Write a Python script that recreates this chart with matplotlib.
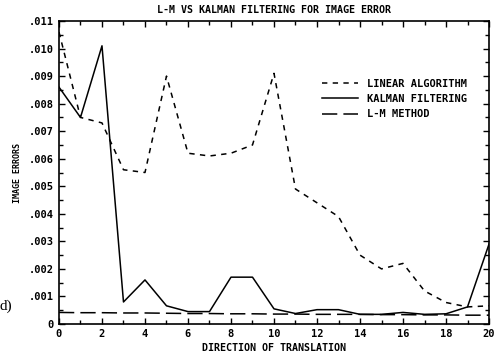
import matplotlib

matplotlib.use("Agg")
import matplotlib.pyplot as plt
from matplotlib.ticker import FixedLocator, MultipleLocator

# values
direction = list(range(21))
linear_alg = [0.0106, 0.0075, 0.0073, 0.0056, 0.0055, 0.0090, 0.0062, 0.0061,
              0.0062, 0.0065, 0.0091, 0.0049, 0.0044, 0.0039, 0.0025, 0.0020,
              0.0022, 0.0012, 0.00078, 0.00062, 0.00066]
kalman = [0.0086, 0.0075, 0.0101, 0.0008, 0.0016, 0.00066, 0.00045, 0.00045,
          0.0017, 0.0017, 0.00055, 0.00038, 0.00052, 0.00052, 0.00035, 0.00035,
          0.00042, 0.00035, 0.00037, 0.00062, 0.0029]
lm_method = [0.00042, 0.00041, 0.00041, 0.00040, 0.00040, 0.00039, 0.00038,
             0.00038, 0.00037, 0.00037, 0.00036, 0.00036, 0.00035, 0.00035,
             0.00035, 0.00034, 0.00034, 0.00033, 0.00033, 0.00032, 0.00032]
y_ticks = [0.0, 0.001, 0.002, 0.003, 0.004, 0.005, 0.006, 0.007, 0.008,
           0.009, 0.010, 0.011]
y_labels = ["0", ".001", ".002", ".003", ".004", ".005", ".006", ".007",
            ".008", ".009", ".010", ".011"]

mono = {"family": "DejaVu Sans Mono", "weight": "bold"}

fig = plt.figure(figsize=(4.94, 3.58), dpi=100)
ax = fig.add_axes((0.1194, 0.095, 0.8705, 0.8463))

ax.plot(direction, linear_alg, color="black", lw=1.1, ls=(0, (3.5, 3.5)),
        label="LINEAR ALGORITHM")
ax.plot(direction, kalman, color="black", lw=1.1, label="KALMAN FILTERING")
ax.plot(direction, lm_method, color="black", lw=1.1, ls=(0, (10, 4)),
        label="L-M METHOD")

ax.set_xlim(0, 20)
ax.set_ylim(0, 0.011)
ax.set_xticks(range(0, 21, 2))
ax.xaxis.set_minor_locator(MultipleLocator(1))
ax.yaxis.set_major_locator(FixedLocator(y_ticks))
ax.yaxis.set_minor_locator(MultipleLocator(0.0005))
ax.set_yticklabels(y_labels, fontdict={**mono, "size": 7.5})
ax.set_xticklabels([str(v) for v in range(0, 21, 2)], fontdict={**mono, "size": 7.5})
ax.tick_params(which="both", direction="in", top=True, right=True)
ax.tick_params(which="major", length=4, width=1)
ax.tick_params(which="minor", length=3, width=1)
for s in ax.spines.values():
    s.set_linewidth(1.2)

ax.set_xlabel("DIRECTION OF TRANSLATION", fontdict={**mono, "size": 7.2}, labelpad=3)
ax.set_ylabel("IMAGE ERRORS", fontdict={**mono, "size": 6}, labelpad=5)
ax.set_title("L-M VS KALMAN FILTERING FOR IMAGE ERROR",
             fontdict={**mono, "size": 7.2}, pad=6)

ax.legend(loc="upper right", bbox_to_anchor=(0.97, 0.84), frameon=False,
          prop={**mono, "size": 7.5}, handlelength=3.5, labelspacing=0.5,
          handletextpad=0.8)

fig.text(0.0, 0.135, "d)", family="Liberation Serif", fontsize=11)

fig.savefig("out.png", dpi=100)
